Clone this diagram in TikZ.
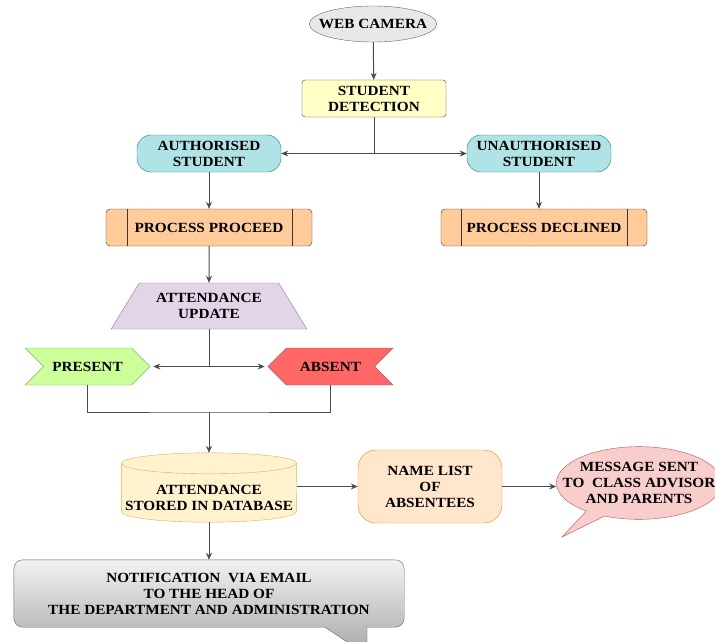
\documentclass[tikz,border=0pt]{standalone}
\usepackage{fontspec}
\setmainfont{Liberation Serif}[FakeStretch=1.09]
\usepackage{tikz}
\usetikzlibrary{positioning,arrows.meta,shapes.geometric,shapes.symbols,shapes.callouts,backgrounds,calc}
\usepackage{xcolor}
\definecolor{camfill}{HTML}{E8E8E8}
\definecolor{detfill}{HTML}{FFFFC6}
\definecolor{cyanfill}{HTML}{B0E3E6}
\definecolor{cyanline}{HTML}{0E8088}
\definecolor{procfill}{HTML}{FFCC99}
\definecolor{darkline}{HTML}{36393D}
\definecolor{updfill}{HTML}{E1D5E7}
\definecolor{updline}{HTML}{9673A6}
\definecolor{presfill}{HTML}{CCFF99}
\definecolor{presline}{HTML}{82B366}
\definecolor{absfill}{HTML}{FF6666}
\definecolor{absline}{HTML}{B85450}
\definecolor{dbfill}{HTML}{FFF2CC}
\definecolor{dbline}{HTML}{D6B656}
\definecolor{listfill}{HTML}{FFE6CC}
\definecolor{listline}{HTML}{D79B00}
\definecolor{msgfill}{HTML}{F8CECC}

\begin{document}
\begin{tikzpicture}[x=1pt, y=-1pt, >={Stealth[length=7pt,width=6pt]},
        every node/.style={font=\fontsize{14}{16}\selectfont\bfseries, align=center},
        flow/.style={->, line width=1pt, draw=black!70},
        link/.style={line width=1pt, draw=black!70},
        camnode/.style={ellipse, draw=black!60, fill=camfill, minimum height=36pt, inner xsep=-9pt, inner ysep=0pt},
        boxnode/.style={rectangle, draw=darkline, minimum width=144pt, minimum height=37pt, inner sep=0pt},
        usernode/.style={rectangle, rounded corners=14pt, draw=cyanline, fill=cyanfill, minimum width=144pt, minimum height=37pt, inner sep=0pt},
        procnode/.style={rectangle, rounded corners=4pt, draw=darkline, fill=procfill, minimum width=206pt, minimum height=37pt, inner sep=0pt},
        flagnode/.style={signal, minimum width=125pt, minimum height=37pt, inner sep=0pt},
        rim/.style={x radius=87.5pt, y radius=10.5pt}]
    \useasboundingbox (0,0) rectangle (715,641);

    % Detection
    \node[camnode] (cam) at (373,24) {WEB CAMERA};
    \node[boxnode, rounded corners=3pt, fill=detfill] (detect) at (374,98.5) {STUDENT\\DETECTION};
    \node[usernode] (auth) at (209,153.5) {AUTHORISED\\STUDENT};
    \node[usernode] (unauth) at (539,153.5) {UNAUTHORISED\\STUDENT};
    \node[procnode] (proceed) at (209,227.5) {PROCESS PROCEED};
    \node[procnode] (declined) at (544,227.5) {PROCESS DECLINED};
    \draw[darkline] ([xshift=21pt]proceed.north west) -- ([xshift=21pt]proceed.south west);
    \draw[darkline] ([xshift=-20pt]proceed.north east) -- ([xshift=-20pt]proceed.south east);
    \draw[darkline] ([xshift=20pt]declined.north west) -- ([xshift=20pt]declined.south west);
    \draw[darkline] ([xshift=-20pt]declined.north east) -- ([xshift=-20pt]declined.south east);

    % Attendance
    \node[trapezium, trapezium stretches=true, trapezium left angle=50, trapezium right angle=50,
          draw=updline, fill=updfill, minimum width=196pt, minimum height=46pt, inner sep=0pt] (update) at (209,306) {ATTENDANCE\\UPDATE};
    \node[flagnode, signal to=east, signal from=west, draw=presline, fill=presfill] (present) at (87.5,366.5) {PRESENT};
    \node[flagnode, signal to=west, signal from=east, draw=absline, fill=absfill] (absent) at (330.5,366.5) {ABSENT};
    \node[rectangle, minimum width=175pt, minimum height=48pt, inner sep=0pt] (db) at (209,498) {ATTENDANCE\\STORED IN DATABASE};
    \begin{scope}[on background layer]
        \draw[draw=dbline, fill=dbfill] ([yshift=10.5pt]db.north west) -- ([yshift=10.5pt]db.south west)
            arc[start angle=180, end angle=360, rim] -- ([yshift=10.5pt]db.north east)
            arc[start angle=0, end angle=180, rim] -- cycle;
        \draw[dbline] ([yshift=10.5pt]db.north west) arc[start angle=180, end angle=360, rim];
    \end{scope}
    \node[rectangle, rounded corners=18pt, draw=listline, fill=listfill, minimum width=144pt, minimum height=73pt,
          inner sep=0pt] (names) at (430,486.5) {NAME LIST\\OF\\ABSENTEES};
    \node[ellipse callout, callout absolute pointer={(562,537)}, draw=absline, fill=msgfill,
          inner xsep=-18pt, inner ysep=5pt] (msg) at (639,483) {MESSAGE SENT\\TO~ CLASS ADVISOR\\AND PARENTS};
    \node[rectangle, minimum width=390pt, minimum height=67pt, inner sep=0pt] (note) at (209,593.5)
          {NOTIFICATION~ VIA EMAIL\\TO THE HEAD OF\\THE DEPARTMENT AND ADMINISTRATION};
    \begin{scope}[on background layer]
        \draw[draw=black!60, top color=black!5, bottom color=black!35]
            ([xshift=158pt]note.south) -- ++(0,28) -- ([xshift=116pt]note.south)
            {[rounded corners=9pt] -- (note.south west) -- (note.north west) -- (note.north east) -- (note.south east)} -- cycle;
    \end{scope}

    % Connectors
    \draw[flow] (cam) -- (detect);
    \draw[flow] (detect.south) |- (auth.east);
    \draw[flow] (detect.south) |- (unauth.west);
    \draw[flow] (auth) -- (proceed);
    \draw[flow] (unauth.south) -- (unauth.south |- declined.north);
    \draw[flow] (proceed) -- (update);
    \draw[flow] (update.south) |- ([xshift=3pt]present.east);
    \draw[flow] (update.south) |- ([xshift=-3pt]absent.west);
    \coordinate (merge) at (db.north |- 0,412);
    \draw[link] (present.south) |- (merge) -| (absent.south);
    \draw[flow] (merge) -- ([yshift=21pt]db.north);
    \draw[flow] (names.west -| db.east) -- (names.west);
    \draw[flow] (names.east) -- (names.east -| msg.west);
    \draw[flow] (db.south) -- (note.north);
\end{tikzpicture}
\end{document}
